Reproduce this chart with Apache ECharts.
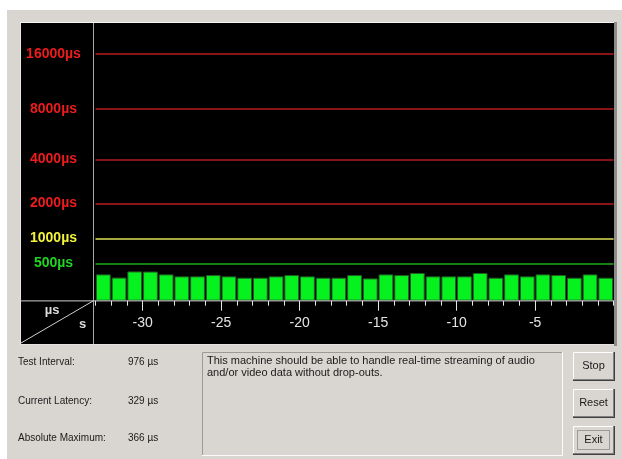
<!DOCTYPE html>
<html>
<head>
<meta charset="utf-8">
<script src="https://cdn.jsdelivr.net/npm/echarts@6/dist/echarts.min.js"></script>
<style>
html,body{margin:0;padding:0;background:#ffffff;}
#chart{width:622px;height:459px;}
</style>
</head>
<body>
<div id="chart"></div>
<script>
// ---- data ----
const BAR_SECONDS = [-33,-32,-31,-30,-29,-28,-27,-26,-25,-24,-23,-22,-21,-20,-19,-18,-17,-16,-15,-14,-13,-12,-11,-10,-9,-8,-7,-6,-5,-4,-3,-2,-1];
const LATENCY_US = [320,272,366,364,320,290,290,310,290,270,270,290,310,290,270,270,310,260,320,310,342,290,290,290,342,270,320,290,320,310,270,320,270];
const TICK_SECONDS = [-33,-32,-31,-30,-29,-28,-27,-26,-25,-24,-23,-22,-21,-20,-19,-18,-17,-16,-15,-14,-13,-12,-11,-10,-9,-8,-7,-6,-5,-4,-3,-2,-1,0];
const LEVELS_US = [500, 1000, 2000, 4000, 8000, 16000];
const LEVEL_LABEL_COLORS = ['#22d422', '#f2f23c', '#ee1c1c', '#ee1c1c', '#ee1c1c', '#ee1c1c'];
const LEVEL_LINE_COLORS = ['#1eaa1e', '#e0e05a', '#b41c1c', '#b41c1c', '#b41c1c', '#b41c1c'];
const INFO_LABELS = ['Test Interval:', 'Current Latency:', 'Absolute Maximum:'];
const INFO_VALUES = ['976 µs', '329 µs', '366 µs'];
const MESSAGE_LINES = ['This machine should be able to handle real-time streaming of audio', 'and/or video data without drop-outs.'];
const BUTTONS = ['Stop', 'Reset', 'Exit'];

// display scale: logarithmic in (latency + offset)
const SCALE_OFFSET_US = 1000;
const AXIS_MIN_US = -27;
const AXIS_MAX_US = 16000;

const GRAY = '#d9d6d1';
const UI_FONT = '"Liberation Sans", Arial, sans-serif';

const chart = echarts.init(document.getElementById('chart'), null, {renderer: 'canvas'});

function line(x1, y1, x2, y2, color, z, w) {
  return {type: 'line', z: z, silent: true, shape: {x1, y1, x2, y2}, style: {stroke: color, lineWidth: w || 1}};
}
function text(str, x, y, opts) {
  return Object.assign({type: 'text', silent: true, z: 30, x: x, y: y,
    style: Object.assign({text: str, fill: '#1a1a1a', font: '10px ' + UI_FONT, align: 'left', verticalAlign: 'middle'}, opts || {})});
}

const graphics = [];
// window + chart panel
graphics.push({type: 'rect', z: -10, silent: true, shape: {x: 7, y: 10, width: 615, height: 449}, style: {fill: GRAY}});
graphics.push({type: 'rect', z: -9, silent: true, shape: {x: 20, y: 23, width: 594, height: 321}, style: {fill: '#000000'}});
graphics.push(line(20, 22.5, 614, 22.5, '#f4f4f4', -8));
graphics.push(line(20.5, 23, 20.5, 344, '#e6e6e6', -8));
graphics.push(line(20, 344.5, 616, 344.5, '#e2e2e2', -8));
graphics.push({type: 'rect', z: -8, silent: true, shape: {x: 614, y: 22, width: 3, height: 324}, style: {fill: '#8c8c8c'}});
// axis frame lines
graphics.push(line(93.5, 23, 93.5, 344, '#a8a8a8', 20));
graphics.push(line(20, 300.9, 614, 300.9, '#cfcfcf', 20));
graphics.push(line(21, 343, 93, 301, '#cfcfcf', 20));
graphics.push(text('µs', 52, 310.5, {fill: '#dcdcdc', font: 'bold 13px ' + UI_FONT, align: 'center'}));
graphics.push(text('s', 82.5, 324, {fill: '#dcdcdc', font: 'bold 13px ' + UI_FONT, align: 'center'}));
// info labels
const infoY = [362.7, 401, 438.3];
INFO_LABELS.forEach((s, i) => {
  graphics.push(text(s, 18, infoY[i]));
  graphics.push(text(INFO_VALUES[i], 128, infoY[i]));
});
// message box (sunken)
graphics.push({type: 'rect', z: 10, silent: true, shape: {x: 202, y: 352, width: 360, height: 103}, style: {fill: GRAY}});
graphics.push(line(202.5, 352.5, 562, 352.5, '#9c9a96', 11));
graphics.push(line(202.5, 352.5, 202.5, 455, '#9c9a96', 11));
graphics.push(line(562.5, 352, 562.5, 455, '#fbfbfb', 11));
graphics.push(line(202, 455.5, 563, 455.5, '#fbfbfb', 11));
MESSAGE_LINES.forEach((s, i) => graphics.push(text(s, 207, 360.7 + i * 12.6, {font: '11px ' + UI_FONT})));
// buttons (raised)
const btnY = [352, 389, 426];
BUTTONS.forEach((s, i) => {
  const x = 573, y = btnY[i], w = 41, h = 28;
  graphics.push({type: 'rect', z: 10, silent: true, shape: {x, y, width: w, height: h}, style: {fill: GRAY}});
  graphics.push(line(x + 0.5, y + 0.5, x + w, y + 0.5, '#ffffff', 11));
  graphics.push(line(x + 0.5, y + 0.5, x + 0.5, y + h, '#ffffff', 11));
  graphics.push(line(x + w - 0.5, y, x + w - 0.5, y + h, '#808080', 11, 1));
  graphics.push(line(x, y + h - 0.5, x + w, y + h - 0.5, '#808080', 11, 1));
  graphics.push(line(x + w + 0.5, y, x + w + 0.5, y + h + 1, '#404040', 11, 1));
  graphics.push(line(x, y + h + 0.5, x + w + 1, y + h + 0.5, '#404040', 11, 1));
  if (s === 'Exit') {
    graphics.push({type: 'rect', z: 12, silent: true, shape: {x: x + 4.5, y: y + 4.5, width: w - 9, height: h - 9},
      style: {fill: null, stroke: '#606060', lineWidth: 1, lineDash: [1, 1]}});
  }
  graphics.push(text(s, x + w / 2, y + h / 2, {align: 'center', font: '11px ' + UI_FONT}));
});

const option = {
  backgroundColor: '#ffffff',
  animation: false,
  grid: {left: 95.5, right: 8.4, top: 54, bottom: 158.3, containLabel: false},
  xAxis: [
    {
      type: 'category', position: 'bottom', data: BAR_SECONDS, boundaryGap: true, z: 15,
      axisLine: {show: false},
      axisTick: {show: true, length: 5, interval: 0, lineStyle: {color: '#e6e6e6', width: 1}},
      axisLabel: {show: false}, splitLine: {show: false}
    },
    {
      type: 'category', position: 'bottom', data: TICK_SECONDS, boundaryGap: false, z: 15,
      axisLine: {show: false},
      axisTick: {show: true, length: 10, interval: (i, v) => Number(v) % 5 === 0 && Number(v) !== 0,
        lineStyle: {color: '#e6e6e6', width: 1}},
      axisLabel: {show: true, interval: (i, v) => Number(v) % 5 === 0 && Number(v) !== 0,
        color: '#e4e4e4', fontFamily: UI_FONT, fontSize: 14, margin: 15, lineHeight: 14},
      splitLine: {show: false}
    }
  ],
  yAxis: {
    type: 'log', logBase: 10,
    min: AXIS_MIN_US + SCALE_OFFSET_US, max: AXIS_MAX_US + SCALE_OFFSET_US,
    startValue: AXIS_MIN_US + SCALE_OFFSET_US,
    z: 15,
    axisLine: {show: false}, axisTick: {show: false}, splitLine: {show: false},
    axisLabel: {
      show: true,
      customValues: LEVELS_US.map(v => v + SCALE_OFFSET_US),
      formatter: v => Math.round(v - SCALE_OFFSET_US) + 'µs',
      color: (v) => LEVEL_LABEL_COLORS[LEVELS_US.indexOf(Math.round(Number(v) - SCALE_OFFSET_US))] || '#ee1c1c',
      fontFamily: UI_FONT, fontWeight: 'bold', fontSize: 14,
      align: 'center', margin: 42
    }
  },
  series: [{
    type: 'bar', xAxisIndex: 0, yAxisIndex: 0, z: 8, clip: true,
    data: LATENCY_US.map(v => v + SCALE_OFFSET_US),
    barCategoryGap: '6%',
    itemStyle: {color: '#06f21f', borderColor: '#255f25', borderWidth: 1},
    silent: true,
    markLine: {
      silent: true, symbol: ['none', 'none'], animation: false,
      label: {show: false},
      data: LEVELS_US.map((v, i) => ({yAxis: v + SCALE_OFFSET_US, lineStyle: {color: LEVEL_LINE_COLORS[i], width: 1.5, type: 'solid', opacity: 1}}))
    }
  }],
  graphic: {elements: graphics}
};
chart.setOption(option);
</script>
</body>
</html>
